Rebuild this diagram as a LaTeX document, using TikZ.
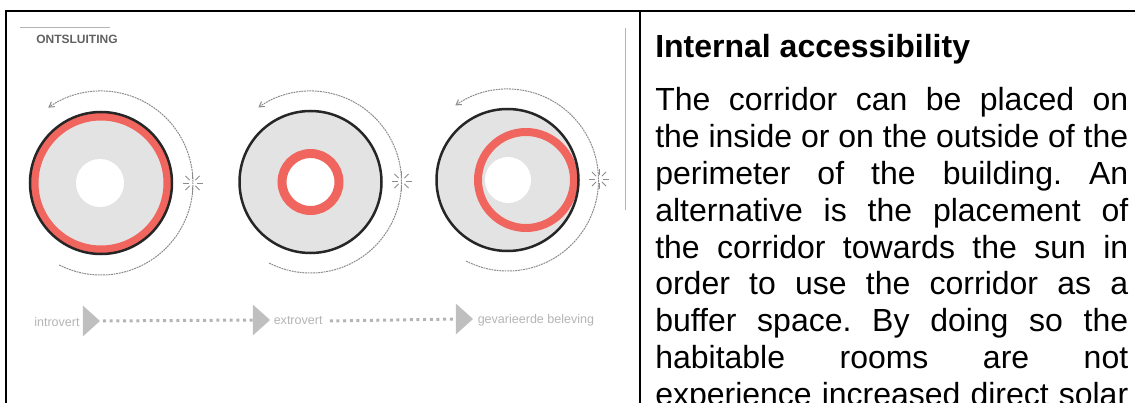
\documentclass[tikz,border=0pt]{standalone}
\usepackage{fontspec}
\setmainfont{Liberation Sans}
\usetikzlibrary{arrows.meta,shapes.geometric}

\definecolor{disk}{HTML}{E3E3E3}
\definecolor{corridor}{HTML}{F0665E}
\definecolor{outline}{HTML}{262626}
\definecolor{faint}{HTML}{B4B4B4}
\definecolor{orbit}{HTML}{8C8C8C}

\def\px{0.75pt}
\frenchspacing

\tikzset{
	disc/.style={shape=circle, fill=disk, draw=none, inner sep=0, outer sep=0, minimum size=#1*\px},
	rim/.style={shape=circle, draw=outline, line width=2.5*\px, inner sep=0, outer sep=0, minimum size=142*\px},
	ring/.style={shape=circle, draw=corridor, inner sep=0, outer sep=0, minimum size=#1*\px},
	hole/.style={shape=circle, fill=white, inner sep=0, outer sep=0, minimum size=#1*\px},
	orbitline/.style={draw=orbit, line width=\px, dash pattern=on 1.4pt off 0.6pt, -{Straight Barb[length=5*\px,width=6*\px]}},
	sunny/.pic={
		\foreach \a in {0,45,...,315}
			\draw[orbit, line width=0.9*\px] (\a:4*\px) -- (\a:10*\px);
	},
	phase/.style={text=faint, font=\fontsize{9.4}{11}\selectfont, inner sep=0},
	wedge/.style={shape=isosceles triangle, isosceles triangle apex angle=84, fill=faint!85, inner sep=0, outer sep=0, minimum height=17*\px, minimum width=31*\px, anchor=apex},
	beads/.style={draw=faint, line width=3*\px, dash pattern=on 2.25pt off 2.75pt},
}

\begin{document}
\begin{tikzpicture}[x=\px, y=-\px]
	\useasboundingbox (0,0) rectangle (1135,403);
	\clip (0,0) rectangle (1135,403);

	\draw[line width=2*\px] (6,403) -- (6,11.5) -- (1135,11.5);
	\draw[line width=2*\px] (640,11.5) -- (640,403);

	\draw[faint, line width=\px] (20,28) -- (110,28);
	\draw[faint, line width=\px] (625,28) -- (625,210);
	\node[inner sep=0, anchor=west, text=black!62, font=\fontsize{9}{11}\selectfont\bfseries] (title) at (36,39) {ONTSLUITING};

	\node[disc=142] (disk1) at (101,183) {};
	\node[hole=48] (hole1) at (100,183) {};
	\node[ring=133, line width=8*\px] (ring1) at (101,183) {};
	\node[rim] (rim1) at (101,183) {};

	\node[disc=142] (disk2) at (310.5,182) {};
	\node[hole=50] (hole2) at (310.5,182) {};
	\node[ring=57, line width=9*\px] (ring2) at (310.5,182) {};
	\node[rim] (rim2) at (310.5,182) {};

	\node[disc=142] (disk3) at (507.5,180) {};
	\node[hole=46] (hole3) at (508,180) {};
	\node[ring=96, line width=8*\px] (ring3) at (526,180) {};
	\node[rim] (rim3) at (507.5,180) {};

	\draw[orbitline] (101,183) ++(117:92) arc[start angle=117, end angle=-125, radius=92];
	\draw[orbitline] (310.5,182) ++(117:91) arc[start angle=117, end angle=-125, radius=91];
	\draw[orbitline] (507.5,180) ++(117:91) arc[start angle=117, end angle=-125, radius=91];

	\pic at (192.5,183) {sunny};
	\pic at (401.5,181) {sunny};
	\pic at (599,179) {sunny};

	\node[phase, anchor=west] (introvert) at (34,322) {introvert};
	\node[wedge] (wedge1) at (100,321) {};
	\node[wedge] (wedge2) at (270,320) {};
	\node[phase, anchor=west] (extrovert) at (273.5,321) {extrovert};
	\node[wedge] (wedge3) at (473,319) {};
	\node[phase, anchor=west] (varied) at (477.5,320) {gevarieerde beleving};

	\path (wedge1.apex) ++(3,0) coordinate (from1);
	\draw[beads] (from1) -- (wedge2.west);
	\path (extrovert.east) ++(7,0) coordinate (from2);
	\draw[beads] (from2) -- (wedge3.west);

	\node[anchor=north west, inner sep=0, text width=473*\px, align=justify, font=\fontsize{24}{27.6}\selectfont] (body) at (655,87.5)
		{The corridor can be placed on\linebreak
		the inside or on the outside of the\linebreak
		perimeter of the building. An\linebreak
		alternative is the placement of\linebreak
		the corridor towards the sun in\linebreak
		order to use the corridor as a\linebreak
		buffer space. By doing so the\linebreak
		habitable rooms are not\linebreak
		experience increased direct solar\linebreak};
	\node[anchor=base west, inner sep=0, font=\fontsize{24}{27.6}\selectfont\bfseries] (heading) at (655,58) {Internal accessibility};
\end{tikzpicture}
\end{document}
